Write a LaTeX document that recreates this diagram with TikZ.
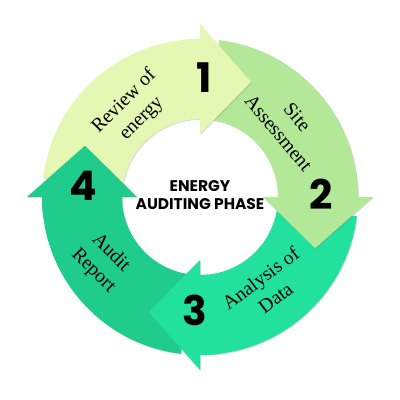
\documentclass[tikz,border=0pt]{standalone}
\usepackage{fontspec}
\setmainfont{Liberation Serif}
\newfontfamily\headfont{Poppins}
\usetikzlibrary{shadows}
\definecolor{stepA}{HTML}{E4F8B4}
\definecolor{stepB}{HTML}{B2E898}
\definecolor{stepC}{HTML}{22E09E}
\definecolor{stepD}{HTML}{20CC8C}

\begin{document}
\begin{tikzpicture}[ring/.style={drop shadow={opacity=.3,shadow xshift=.6pt,shadow yshift=-.6pt}},
  phase/.style={align=center,font=\fontsize{14}{17.5}\selectfont},
  num/.style={font=\headfont\bfseries\fontsize{29}{29}\selectfont}]
\useasboundingbox (-5,-5.075) rectangle (5,4.925);

% arcs first, then the heads on top
\foreach \a/\c in {180/stepA,90/stepB,0/stepC,-90/stepD}
  \fill[\c,ring] (\a-7:3.95) arc[start angle=\a-7,end angle=\a-90,radius=3.95]
    -- (\a-90:1.95) arc[start angle=\a-90,end angle=\a-7,radius=1.95] -- cycle;
\foreach \a/\c in {180/stepA,90/stepB,0/stepC,-90/stepD}{
  \fill[\c,ring] (\a-90:1.575) -- (\a-90:4.325) -- (\a-114:3.15) -- cycle;
  \fill[\c] (\a-84:3.95) arc[start angle=\a-84,end angle=\a-90,radius=3.95]
    -- (\a-90:1.95) arc[start angle=\a-90,end angle=\a-84,radius=1.95] -- cycle;
}

\node[phase,rotate=45]  (review)   at (-1.675,2.175) {Review of\\energy};
\node[phase,rotate=-50] (site)     at (2.2,1.8)      {Site\\Assessment};
\node[phase,rotate=37]  (analysis) at (1.7,-2.275)   {Analysis of\\Data};
\node[phase,rotate=-45] (audit)    at (-2.45,-1.625) {Audit\\Report};

\node[num] (n1) at (0.1,2.975)    {1};
\node[num] (n2) at (3.025,0.075)  {2};
\node[num] (n3) at (-0.125,-2.825) {3};
\node[num] (n4) at (-2.925,0.275) {4};

\node[align=center,font=\headfont\bfseries\fontsize{11}{12.5}\selectfont] (title) at (0,0.05) {ENERGY\\AUDITING PHASE};
\end{tikzpicture}
\end{document}
